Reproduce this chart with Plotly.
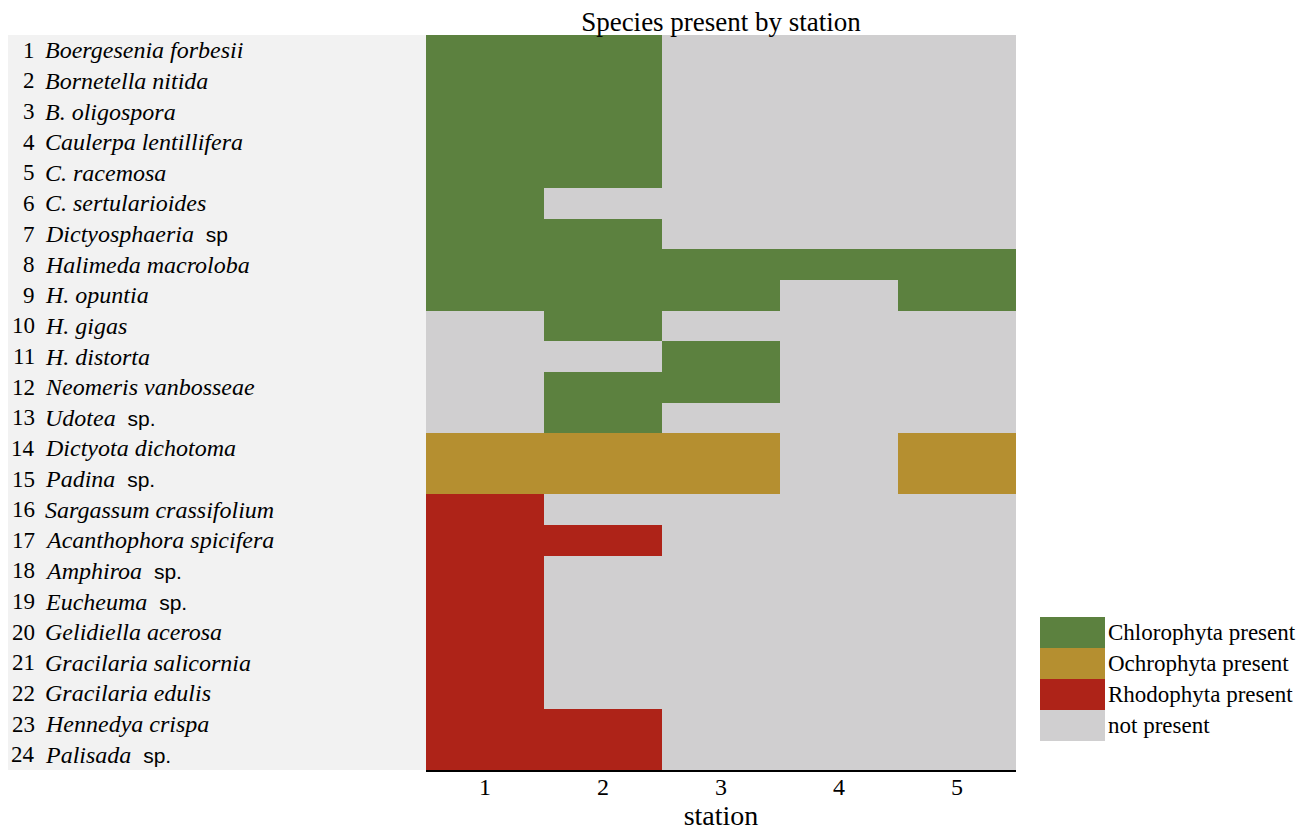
import plotly.graph_objects as go

SP = "&nbsp;<span style='font-family:Liberation Sans;font-size:21px'> sp.</span>"
stations = [1, 2, 3, 4, 5]
species = [
    "<i>Boergesenia forbesii</i>", "<i>Bornetella nitida</i>", "<i>B. oligospora</i>",
    "<i>Caulerpa lentillifera</i>", "<i>C. racemosa</i>", "<i>C. sertularioides</i>",
    "<i>Dictyosphaeria</i>&nbsp;<span style='font-family:Liberation Sans;font-size:21px'> sp</span>",
    "<i>Halimeda macroloba</i>", "<i>H. opuntia</i>", "<i>H. gigas</i>", "<i>H. distorta</i>",
    "<i>Neomeris vanbosseae</i>",
    "<i>Udotea</i>" + SP,
    "<i>Dictyota dichotoma</i>",
    "<i>Padina</i>" + SP,
    "<i>Sargassum crassifolium</i>", "<i>Acanthophora spicifera</i>",
    "<i>Amphiroa</i>" + SP,
    "<i>Eucheuma</i>" + SP,
    "<i>Gelidiella acerosa</i>", "<i>Gracilaria salicornia</i>", "<i>Gracilaria edulis</i>",
    "<i>Hennedya crispa</i>",
    "<i>Palisada</i>" + SP,
]
# 0 = not present, 1 = Chlorophyta, 2 = Ochrophyta, 3 = Rhodophyta
presence = [
    [1, 1, 0, 0, 0],
    [1, 1, 0, 0, 0],
    [1, 1, 0, 0, 0],
    [1, 1, 0, 0, 0],
    [1, 1, 0, 0, 0],
    [1, 0, 0, 0, 0],
    [1, 1, 0, 0, 0],
    [1, 1, 1, 1, 1],
    [1, 1, 1, 0, 1],
    [0, 1, 0, 0, 0],
    [0, 0, 1, 0, 0],
    [0, 1, 1, 0, 0],
    [0, 1, 0, 0, 0],
    [2, 2, 2, 0, 2],
    [2, 2, 2, 0, 2],
    [3, 0, 0, 0, 0],
    [3, 3, 0, 0, 0],
    [3, 0, 0, 0, 0],
    [3, 0, 0, 0, 0],
    [3, 0, 0, 0, 0],
    [3, 0, 0, 0, 0],
    [3, 0, 0, 0, 0],
    [3, 3, 0, 0, 0],
    [3, 3, 0, 0, 0],
]
legend_labels = ["Chlorophyta present", "Ochrophyta present", "Rhodophyta present", "not present"]
GRAY, GREEN, GOLD, RED = "#d0cfd0", "#5c813f", "#b58f30", "#ae2318"
legend_colors = [GREEN, GOLD, RED, GRAY]

row_ids = list(range(1, len(species) + 1))

OFF = 8  # page body margin
W, H = 1314 - OFF, 831 - OFF
L, R, T, B = 426 - OFF, 298, 35 - OFF, 61
pw = W - L - R
ph = H - T - B

def px_to_paper_x(px):  # page pixel -> paper
    return (px - OFF - L) / pw

def px_to_paper_y(py):
    return (H - B - (py - OFF)) / ph

fig = go.Figure()
fig.add_trace(go.Heatmap(
    x=stations, y=row_ids, z=presence, zmin=0, zmax=3,
    colorscale=[[0, GRAY], [0.1667, GRAY], [0.1667, GREEN], [0.5, GREEN],
                [0.5, GOLD], [0.8333, GOLD], [0.8333, RED], [1, RED]],
    showscale=False, xgap=0, ygap=0, hoverinfo="skip",
))

shapes = [dict(type="rect", xref="paper", yref="paper",
               x0=px_to_paper_x(5), x1=0, y0=0, y1=1,
               fillcolor="#f2f2f2", line=dict(width=0), layer="below")]
annotations = []
serif = "Liberation Serif, Times New Roman, serif"
for i, name in zip(row_ids, species):
    annotations.append(dict(x=px_to_paper_x(37), y=i, xref="paper", yref="y",
                            text=str(i), showarrow=False, xanchor="right",
                            font=dict(family=serif, size=23, color="black")))
    annotations.append(dict(x=px_to_paper_x(43), y=i, xref="paper", yref="y",
                            text=name, showarrow=False, xanchor="left",
                            font=dict(family=serif, size=24, color="black")))

# legend
box_top = 617
box_h = 31
for k, (lab, col) in enumerate(zip(legend_labels, legend_colors)):
    y0 = box_top + k * box_h
    shapes.append(dict(type="rect", xref="paper", yref="paper",
                       x0=px_to_paper_x(1040), x1=px_to_paper_x(1105),
                       y0=px_to_paper_y(y0 + box_h), y1=px_to_paper_y(y0),
                       fillcolor=col, line=dict(width=0)))
    annotations.append(dict(x=px_to_paper_x(1106), y=px_to_paper_y(y0 + box_h / 2),
                            xref="paper", yref="paper", text=lab, showarrow=False,
                            xanchor="left", yanchor="middle",
                            font=dict(family=serif, size=23, color="black")))

fig.update_layout(
    width=W, height=H,
    margin=dict(l=L, r=R, t=T, b=B, pad=0, autoexpand=False),
    paper_bgcolor="white", plot_bgcolor="white",
    title=dict(text="Species present by station", x=0.5, xref="paper",
               y=1 - 14 / H, yref="container", yanchor="middle",
               font=dict(family=serif, size=27, color="black")),
    xaxis=dict(range=[0.5, 5.5], tickvals=stations, ticktext=[str(s) for s in stations],
               showgrid=False, zeroline=False, showline=True, linecolor="black",
               linewidth=2, ticks="", automargin=False, ticklabelstandoff=-6,
               tickfont=dict(family=serif, size=24, color="black"),
               title=dict(text="station", standoff=4,
                          font=dict(family=serif, size=28, color="black"))),
    yaxis=dict(range=[24.5, 0.5], showticklabels=False, showgrid=False,
               zeroline=False, showline=False, ticks="", automargin=False),
    shapes=shapes, annotations=annotations, showlegend=False,
)

fig.write_html("out.html")
